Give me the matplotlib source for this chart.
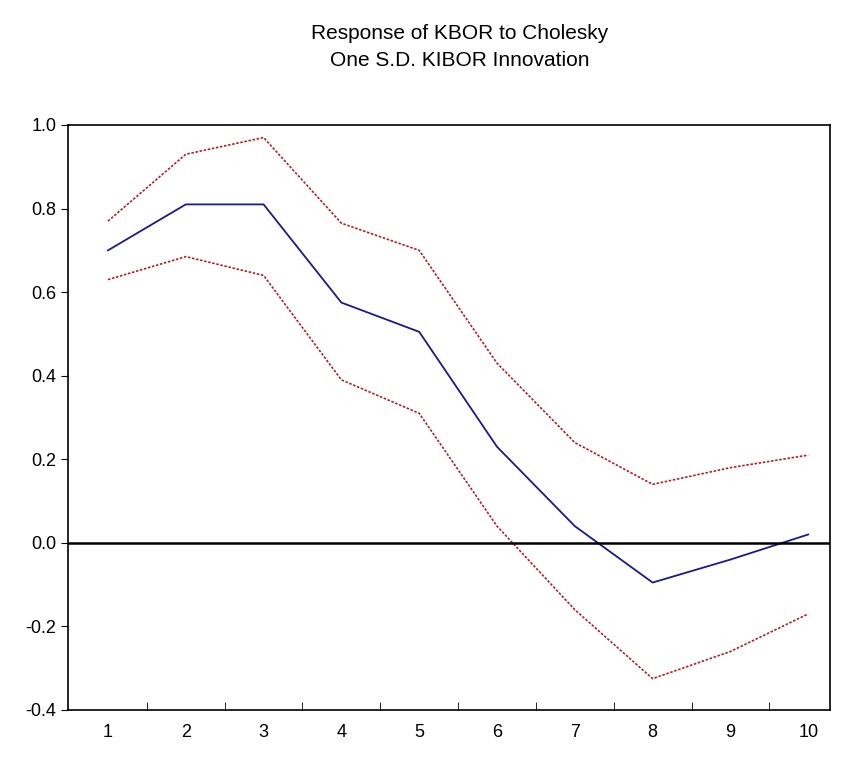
import matplotlib.pyplot as plt

periods = [1, 2, 3, 4, 5, 6, 7, 8, 9, 10]
response = [0.70, 0.81, 0.81, 0.575, 0.505, 0.23, 0.04, -0.095, -0.04, 0.02]
upper = [0.77, 0.93, 0.97, 0.765, 0.70, 0.43, 0.24, 0.14, 0.18, 0.21]
lower = [0.63, 0.685, 0.64, 0.39, 0.31, 0.04, -0.16, -0.325, -0.26, -0.17]

plt.rcParams['font.family'] = ['Liberation Sans', 'DejaVu Sans']
fig = plt.figure(figsize=(8.44, 7.59), dpi=100)
ax = fig.add_axes([68/844, 1-710/759, 762/844, 585/759])

ax.plot(periods, response, color='#1a1a8c', lw=1.3)
ax.plot(periods, upper, color='#b02020', lw=1.2, ls=(0, (1.5, 1)))
ax.plot(periods, lower, color='#b02020', lw=1.2, ls=(0, (1.5, 1)))
ax.axhline(0, color='black', lw=1.8)

ax.set_xlim(0.486, 10.28)
ax.set_ylim(-0.4, 1.0)
ax.set_xticks(periods)
ax.set_xticks([p + 0.5 for p in periods[:-1]], minor=True)
ax.tick_params(axis='x', which='major', length=0, pad=10, labelsize=13)
ax.tick_params(axis='x', which='minor', direction='in', length=6)
ax.set_yticks([-0.4, -0.2, 0.0, 0.2, 0.4, 0.6, 0.8, 1.0])
ax.set_yticklabels(['-0.4', '-0.2', '0.0', '0.2', '0.4', '0.6', '0.8', '1.0'])
ax.tick_params(axis='y', direction='out', length=5, labelsize=13)
for s in ax.spines.values():
    s.set_linewidth(1.2)

fig.text(0.545, 0.938, "Response of KBOR to Cholesky\nOne S.D. KIBOR Innovation",
         ha='center', va='center', fontsize=15, linespacing=1.5)
fig.savefig('out.png', dpi=100)
